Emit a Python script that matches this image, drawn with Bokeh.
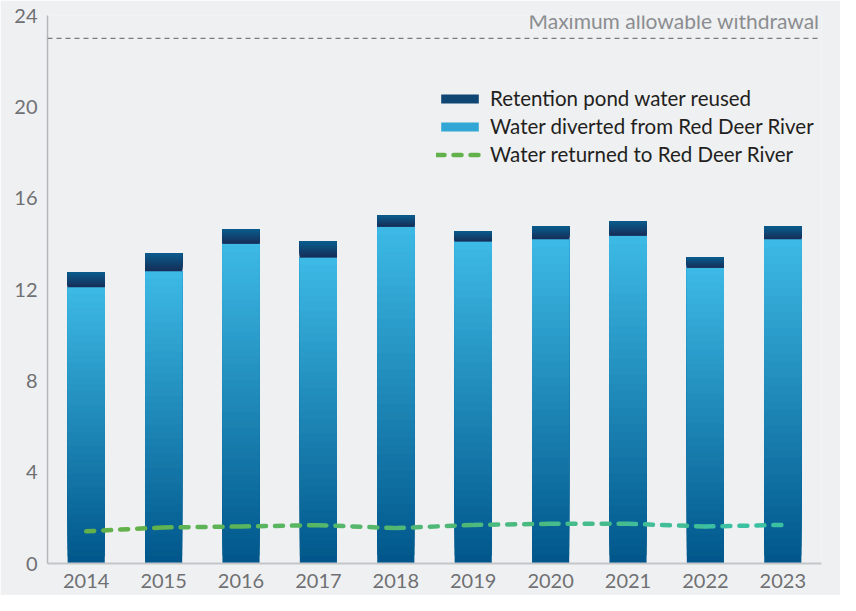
import numpy as np
from bokeh.plotting import figure
from bokeh.models import (FactorRange, Range1d, Span, Label, Legend, LegendItem,
                          ColumnDataSource, FixedTicker)
from bokeh.embed import file_html
from bokeh.resources import INLINE

# ---------------- data ----------------
years = ["2014", "2015", "2016", "2017", "2018", "2019", "2020", "2021", "2022", "2023"]
diverted = [12.1, 12.8, 14.0, 13.4, 14.75, 14.1, 14.2, 14.35, 12.95, 14.2]
reused = [0.65, 0.8, 0.65, 0.7, 0.5, 0.45, 0.55, 0.65, 0.45, 0.55]
returned = [1.41, 1.58, 1.62, 1.68, 1.55, 1.69, 1.74, 1.74, 1.62, 1.69]
max_withdrawal = 23
y_ticks = [0, 4, 8, 12, 16, 20, 24]

label_reused = "Retention pond water reused"
label_diverted = "Water diverted from Red Deer River"
label_returned = "Water returned to Red Deer River"
label_max = "Maximum allowable withdrawal"

# ---------------- style ----------------
BG = "#eff0f2"
FONT = "Lato"
TICK_COLOR = "#6f7073"
LIGHT_TOP, LIGHT_BOT = "#3dbae6", "#00568a"
DARK_TOP, DARK_BOT = "#0a5d8e", "#172e58"
GREEN_A, GREEN_B = "#62b14a", "#3cc0a2"
N_BANDS = 40
BAR_W = 0.48


def hex2rgb(h):
    h = h.lstrip("#")
    return np.array([int(h[i:i + 2], 16) for i in (0, 2, 4)], dtype=float)


def mix(c1, c2, t):
    a, b = hex2rgb(c1), hex2rgb(c2)
    c = a + (b - a) * t
    return "#%02x%02x%02x" % tuple(int(round(v)) for v in c)


def gradient_bands(bottoms, tops, c_top, c_bot):
    # each band runs from its start up to the bar top; later bands paint over
    # earlier ones, so no seams appear between them
    xs, b0, b1, cols = [], [], [], []
    fr = np.linspace(0, 1, N_BANDS + 1)
    for i in range(N_BANDS):
        for yr, lo, hi in zip(years, bottoms, tops):
            xs.append(yr)
            b0.append(lo + (hi - lo) * fr[i])
            b1.append(hi)
            cols.append(mix(c_bot, c_top, (i + 0.5) / N_BANDS))
    return ColumnDataSource(dict(x=xs, bottom=b0, top=b1, color=cols))


p = figure(width=840, height=595,
           x_range=FactorRange(factors=years, range_padding=0),
           y_range=Range1d(0, 24),
           output_backend="svg", toolbar_location=None,
           min_border_left=47, min_border_right=19,
           min_border_top=15, min_border_bottom=32,
           background_fill_color=BG, border_fill_color=BG,
           outline_line_color=None)
p.grid.grid_line_color = None

totals = [d + r for d, r in zip(diverted, reused)]
src_div = gradient_bands([0] * len(years), diverted, LIGHT_TOP, LIGHT_BOT)
src_reu = gradient_bands(diverted, totals, DARK_TOP, DARK_BOT)

r_div = p.vbar(x="x", bottom="bottom", top="top", width=BAR_W, source=src_div,
               fill_color="color", line_color=None)
r_reu = p.vbar(x="x", bottom="bottom", top="top", width=BAR_W, source=src_reu,
               fill_color="color", line_color=None)

# returned water line, colour shifting from green to teal
nseg = len(years) - 1
seg_src = ColumnDataSource(dict(
    x0=years[:-1], x1=years[1:], y0=returned[:-1], y1=returned[1:],
    color=[mix(GREEN_A, GREEN_B, i / max(nseg - 1, 1)) for i in range(nseg)]))
r_ret = p.segment(x0="x0", y0="y0", x1="x1", y1="y1", source=seg_src,
                  line_color="color", line_width=4.5, line_dash="8 9",
                  line_cap="round")

# maximum allowable line
p.add_layout(Span(location=max_withdrawal, dimension="width",
                  line_color="#797b7e", line_width=1.3, line_dash="5 4"))
p.add_layout(Label(x=len(years), y=max_withdrawal, text=label_max,
                   x_offset=-2, y_offset=5, text_align="right",
                   text_baseline="bottom", text_font=FONT,
                   text_font_size="21px", text_color="#8b8d90"))

# axes
p.yaxis.ticker = FixedTicker(ticks=y_ticks)
for ax in (p.xaxis[0], p.yaxis[0]):
    ax.major_tick_line_color = None
    ax.minor_tick_line_color = None
    ax.major_tick_out = 0
    ax.major_tick_in = 0
    ax.major_label_text_font = FONT
    ax.major_label_text_font_size = "20px"
    ax.major_label_text_color = TICK_COLOR
p.yaxis.axis_line_color = "#b5b7ba"
p.yaxis.axis_line_width = 1.5
p.yaxis.major_label_standoff = 10
p.xaxis.axis_line_color = "#c3c5c8"
p.xaxis.axis_line_width = 2
p.xaxis.major_label_standoff = 10

legend = Legend(items=[
    LegendItem(label=label_reused, renderers=[r_reu], index=(N_BANDS // 2) * len(years)),
    LegendItem(label=label_diverted, renderers=[r_div], index=(N_BANDS * 4 // 5) * len(years)),
    LegendItem(label=label_returned, renderers=[r_ret], index=0),
], location=(389, 397), orientation="vertical",
    background_fill_alpha=0, border_line_color=None,
    padding=0, margin=0, spacing=4, glyph_width=47, glyph_height=11,
    label_standoff=7, label_text_font=FONT, label_text_font_size="20.5px",
    label_text_color="#231f20")
p.add_layout(legend, "center")

open("out.html", "w").write(file_html(p, INLINE))
